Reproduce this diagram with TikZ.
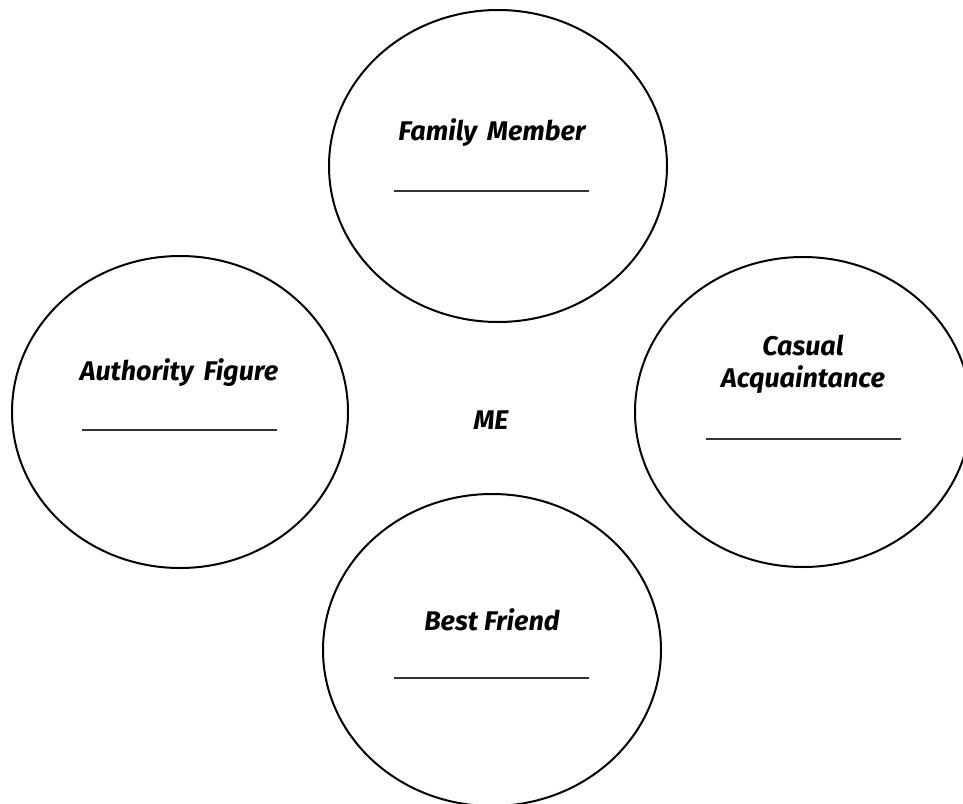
\documentclass[tikz,border=0pt]{standalone}
\usepackage{fontspec}
\setmainfont{Fira Sans}
\begin{document}
\begin{tikzpicture}[x=1pt,y=-1pt,
  bubble/.style={draw=black,line width=2pt},
  lbl/.style={font=\fontsize{27}{32}\selectfont\bfseries\itshape,align=center,inner sep=0pt},
  blank/.style={draw=black!80,line width=1.8pt}]
\useasboundingbox (0,0) rectangle (963,803);
% ellipses
\draw[bubble] (498,166) ellipse [x radius=169,y radius=156];
\draw[bubble] (180,412) ellipse [x radius=168,y radius=156];
\draw[bubble] (803,412) ellipse [x radius=168,y radius=155];
\draw[bubble] (492,650) ellipse [x radius=169,y radius=156];
% labels
\node[lbl] (fam) at (492,133) {Family\hspace{0.15em} Member};
\node[lbl] (auth) at (179,373) {Authority\hspace{0.15em} Figure};
\node[lbl] (cas) at (803,364) {Casual\\Acquaintance};
\node[lbl] (best) at (492,620) {Best Friend};
\node[lbl] (me) at (491,420) {ME};
% blanks
\coordinate (f1) at (394,191); \coordinate (f2) at (589,191);
\coordinate (a1) at (82,430); \coordinate (a2) at (277,430);
\coordinate (c1) at (706,439); \coordinate (c2) at (901,439);
\coordinate (b1) at (394,678); \coordinate (b2) at (589,678);
\draw[blank] (f1) -- (f2);
\draw[blank] (a1) -- (a2);
\draw[blank] (c1) -- (c2);
\draw[blank] (b1) -- (b2);
\end{tikzpicture}
\end{document}
